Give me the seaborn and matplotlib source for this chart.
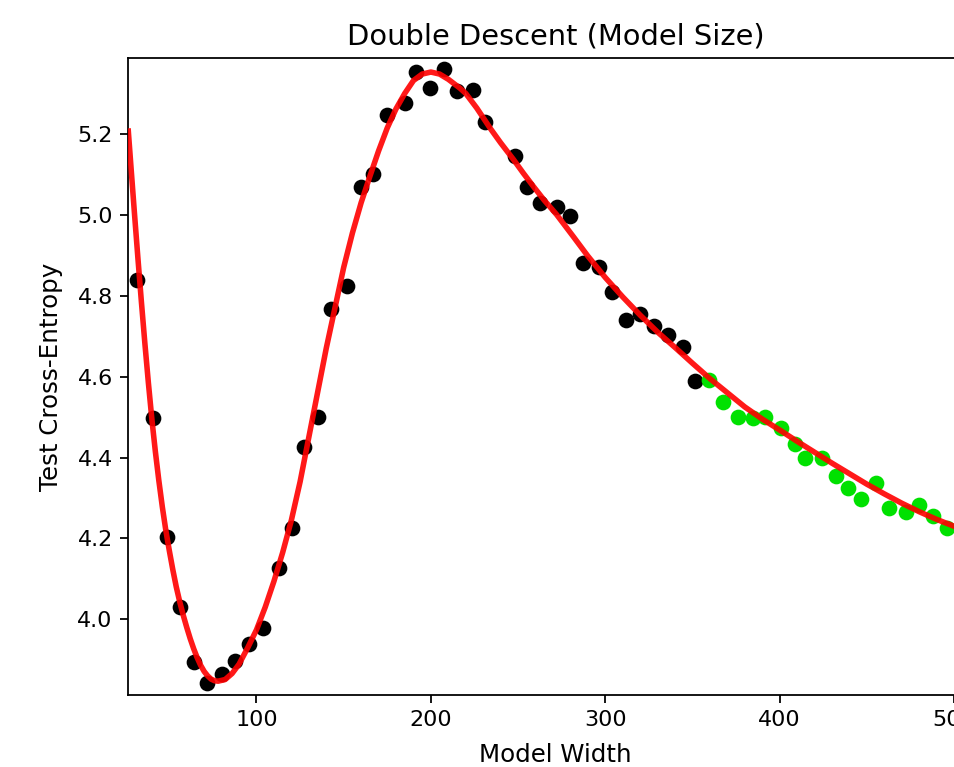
import matplotlib
matplotlib.use("Agg")
import matplotlib.pyplot as plt
import seaborn as sns
import pandas as pd

# Training-range measurements (black)
train_width = [31.5, 40.4, 48.6, 56.2, 64.4, 71.5, 80.1, 87.4, 95.6, 104.0,
               112.8, 120.5, 127.4, 135.3, 142.5, 151.8, 159.7, 166.7, 174.8, 184.9,
               191.2, 199.5, 207.6, 215.0, 224.2, 231.1, 248.3, 255.2, 262.6, 272.4,
               279.8, 287.1, 296.4, 303.9, 311.9, 320.0, 328.2, 336.2, 344.8, 351.5]
train_loss = [4.839, 4.497, 4.204, 4.030, 3.895, 3.842, 3.865, 3.898, 3.940, 3.978,
              4.127, 4.225, 4.426, 4.501, 4.766, 4.824, 5.068, 5.101, 5.248, 5.276,
              5.353, 5.314, 5.360, 5.306, 5.308, 5.230, 5.146, 5.068, 5.030, 5.020,
              4.996, 4.882, 4.870, 4.808, 4.740, 4.755, 4.725, 4.702, 4.673, 4.588]

# Larger-width measurements (green)
large_width = [359.5, 367.5, 376.3, 384.7, 391.6, 400.8, 408.8, 414.8, 424.3, 432.3,
               438.9, 446.7, 455.3, 462.9, 472.5, 480.1, 488.0, 495.8]
large_loss = [4.592, 4.536, 4.501, 4.497, 4.499, 4.472, 4.433, 4.399, 4.400, 4.354,
              4.325, 4.297, 4.337, 4.276, 4.266, 4.283, 4.255, 4.225]

# Trend curve (red)
trend_width = [26.5, 28, 30, 32, 34, 36, 38, 40, 42, 44, 46, 48, 50, 52, 54, 56, 58,
               60, 62, 64, 66, 68, 70, 72, 74, 76, 78, 82, 86, 90, 95, 100, 105,
               110, 115, 120, 125, 130, 135, 140, 145, 150, 155, 160, 165, 170, 175,
               180, 185, 190, 195, 200, 205, 210, 216.7, 220, 226.3, 234, 240, 247.3,
               253, 258.8, 265, 272.2, 281.7, 290, 300, 310, 320, 330, 340, 350, 360,
               370, 380, 390, 400, 410, 420, 430, 440, 450, 460, 470, 480, 490, 500, 517]
trend_loss = [5.207, 5.12, 5.005, 4.893, 4.785, 4.682, 4.585, 4.495, 4.415, 4.343,
              4.278, 4.22, 4.17, 4.123, 4.08, 4.043, 4.01, 3.98, 3.952, 3.927, 3.905,
              3.886, 3.871, 3.86, 3.852, 3.848, 3.847, 3.851, 3.866, 3.889, 3.93,
              3.974, 4.03, 4.094, 4.165, 4.245, 4.34, 4.45, 4.56, 4.67, 4.77, 4.87,
              4.955, 5.03, 5.095, 5.158, 5.215, 5.262, 5.30, 5.332, 5.348, 5.353,
              5.348, 5.335, 5.313, 5.30, 5.264, 5.214, 5.178, 5.137, 5.103, 5.070,
              5.036, 5.000, 4.946, 4.898, 4.845, 4.797, 4.752, 4.71, 4.672, 4.633,
              4.595, 4.56, 4.525, 4.495, 4.468, 4.44, 4.413, 4.386, 4.360, 4.334,
              4.310, 4.287, 4.266, 4.247, 4.230, 4.203]

train_df = pd.DataFrame({"width": train_width, "loss": train_loss})
large_df = pd.DataFrame({"width": large_width, "loss": large_loss})
trend_df = pd.DataFrame({"width": trend_width, "loss": trend_loss})

DPI = 160
fig = plt.figure(figsize=(954 / DPI, 767 / DPI), dpi=DPI)
ax = fig.add_axes([0.1345, 0.0945, 0.8952, 0.8295])

sns.scatterplot(data=train_df, x="width", y="loss", color="black", s=50,
                linewidth=0, ax=ax, zorder=2)
sns.scatterplot(data=large_df, x="width", y="loss", color="#00e100", s=50,
                linewidth=0, ax=ax, zorder=2)
sns.lineplot(data=trend_df, x="width", y="loss", color="red", alpha=0.9,
             linewidth=2.5, ax=ax, zorder=3)

ax.set_xlim(26.5, 516.2)
ax.set_ylim(3.814, 5.387)
ax.set_xticks([100, 200, 300, 400, 500])
ax.set_yticks([4.0, 4.2, 4.4, 4.6, 4.8, 5.0, 5.2])
ax.set_title("Double Descent (Model Size)", fontsize=13)
ax.set_xlabel("Model Width", fontsize=11, labelpad=6)
ax.set_ylabel("Test Cross-Entropy", fontsize=11, labelpad=6.5)

fig.savefig("out.png", dpi=DPI)
